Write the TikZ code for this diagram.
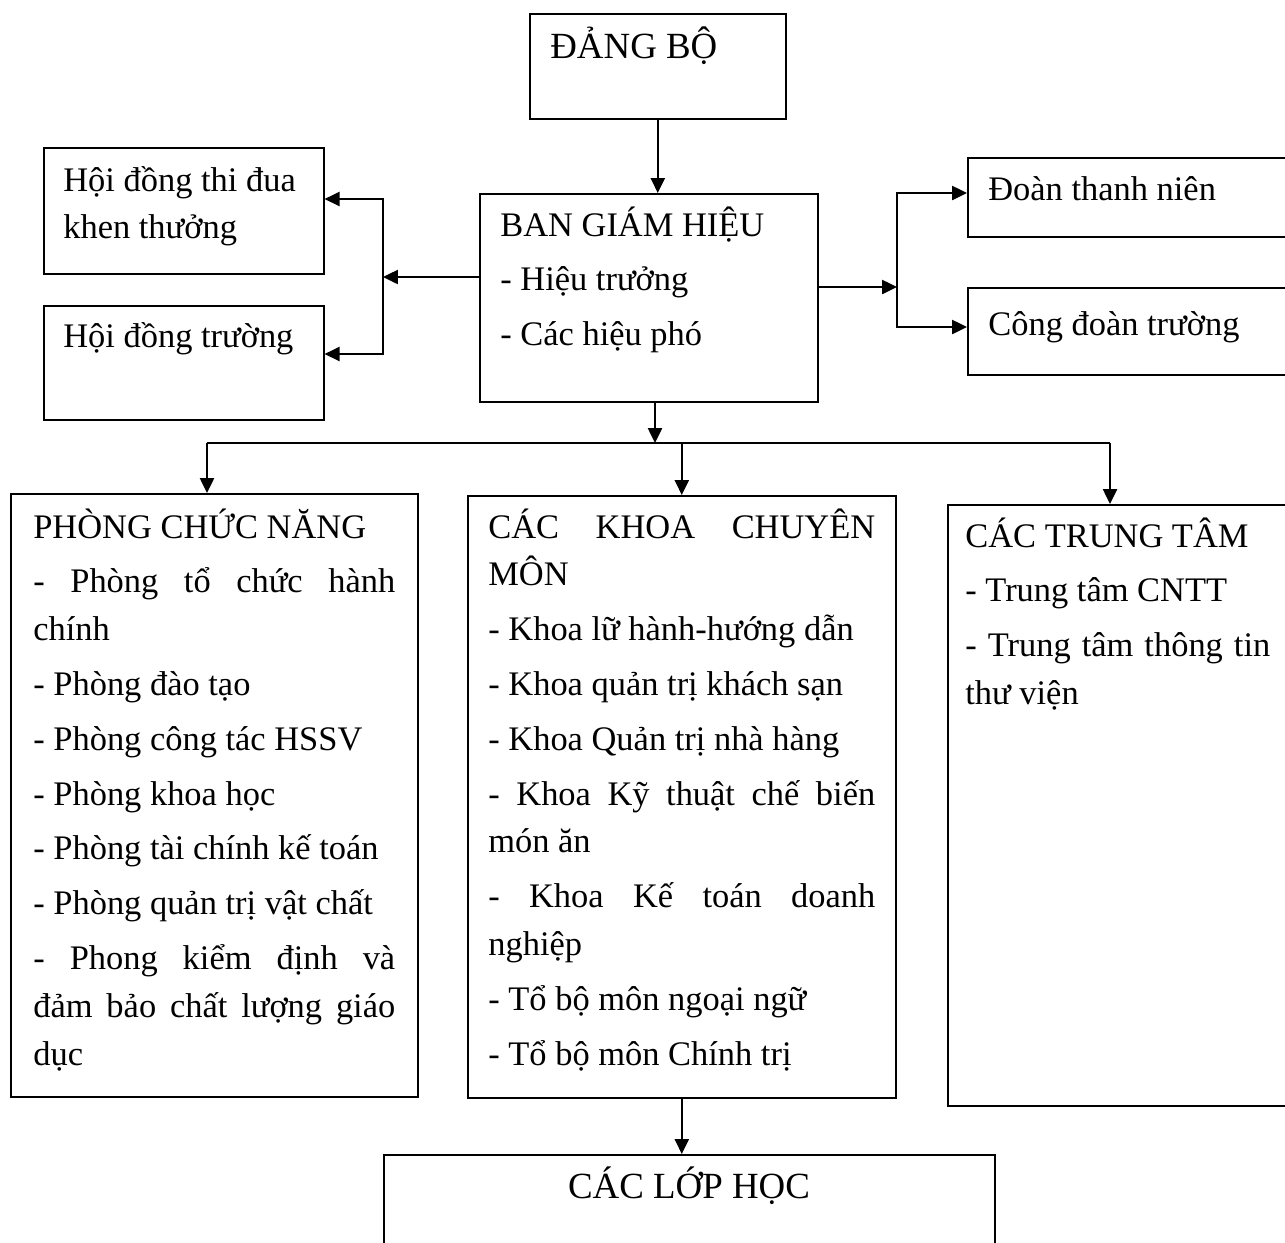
\documentclass[tikz,border=0pt]{standalone}
\usepackage{fontspec}
\setmainfont{Liberation Serif}[WordSpace={1,6,0}]
\usetikzlibrary{arrows.meta}

\begin{document}
\begin{tikzpicture}[x=0.02cm, y=-0.02cm,
    box/.style 2 args={draw, line width=0.9pt, anchor=north west, inner sep=0pt,
      minimum width=#1*0.02cm, minimum height=#2*0.02cm},
    txt/.style={anchor=base west, inner sep=0pt, font=\fontsize{19.6}{27.2}\selectfont,
      execute at begin node={\setlength{\parskip}{4pt}\hyphenpenalty=10000
        \exhyphenpenalty=10000\tolerance=10000}},
    arr/.style={line width=1.2pt, -{Triangle[length=8.5pt,width=8pt]}},
    arrs/.style={line width=1.2pt,
      {Triangle[length=8.5pt,width=8pt]}-{Triangle[length=8.5pt,width=8pt]}}]
    \useasboundingbox (0,0) rectangle (1285,1242);
    \clip (0,0) rectangle (1285,1242);

    % Boxes
    \node[box={256}{105}] (dang) at (529,13) {};
    \node[box={338}{208}] (bgh) at (479,193) {};
    \node[box={280}{126}] (hdtd) at (43,147) {};
    \node[box={280}{114}] (hdt) at (43,305) {};
    \node[box={340}{79}] (doan) at (967,157) {};
    \node[box={340}{87}] (cd) at (967,287) {};
    \node[box={407}{603}] (pcn) at (10,493) {};
    \node[box={428}{602}] (khoa) at (467,495) {};
    \node[box={360}{601}] (ttam) at (947,504) {};
    \node[box={611}{120}] (lop) at (383,1154) {};

    % Texts
    \node[txt, font=\fontsize{21}{27.2}\selectfont] (dang-t) at (550,58) {ĐẢNG BỘ};
    \node[txt, text width=6cm, align=flush left] (bgh-t) at (500,236)
      {BAN GIÁM HIỆU\par - Hiệu trưởng\par - Các hiệu phó};
    \node[txt, text width=5cm, align=flush left] (hdtd-t) at (63,191)
      {Hội đồng thi đua\\ khen thưởng};
    \node[txt] (hdt-t) at (63,347) {Hội đồng trường};
    \node[txt] (doan-t) at (988,200) {Đoàn thanh niên};
    \node[txt] (cd-t) at (988,335) {Công đoàn trường};
    \node[txt, text width=7.24cm, align=justify] (pcn-t) at (33,538) {
      PHÒNG CHỨC NĂNG\par
      - Phòng tổ chức hành chính\par
      - Phòng đào tạo\par
      - Phòng công tác HSSV\par
      - Phòng khoa học\par
      - Phòng tài chính kế toán\par
      - Phòng quản trị vật chất\par
      - Phong kiểm định và đảm bảo chất lượng giáo dục};
    \node[txt, text width=7.74cm, align=justify] (khoa-t) at (488,538) {
      CÁC KHOA CHUYÊN MÔN\par
      - Khoa lữ hành-hướng dẫn\par
      - Khoa quản trị khách sạn\par
      - Khoa Quản trị nhà hàng\par
      - Khoa Kỹ thuật chế biến món ăn\par
      - Khoa Kế toán doanh nghiệp\par
      - Tổ bộ môn ngoại ngữ\par
      - Tổ bộ môn Chính trị};
    \node[txt, text width=6.1cm, align=justify] (ttam-t) at (965,547) {
      CÁC TRUNG TÂM\par
      - Trung tâm CNTT\par
      - Trung tâm thông tin thư viện};
    \node[txt, anchor=base, font=\fontsize{21}{27.2}\selectfont] (lop-t) at (689,1198)
      {CÁC LỚP HỌC};

    % Connectors
    \coordinate (lbar) at (383,277);
    \coordinate (ltop) at (383,199);
    \coordinate (lbot) at (383,354);
    \coordinate (rbar) at (897,287);
    \coordinate (rtop) at (897,193);
    \coordinate (rbot) at (897,327);
    \coordinate (hmid) at (655,443);
    \coordinate (hl) at (207,443);
    \coordinate (hr) at (1110,443);

    \draw[arr] (dang.south) -- (dang.south |- bgh.north);
    \draw[arr] (bgh.west |- lbar) -- (lbar);
    \draw[arrs] (ltop -| hdtd.east) -- (ltop) -- (lbot) -- (lbot -| hdt.east);
    \draw[arr] (bgh.east |- rbar) -- (rbar);
    \draw[arrs] (rtop -| doan.west) -- (rtop) -- (rbot) -- (rbot -| cd.west);
    \draw[arr] (bgh.south -| hmid) -- (hmid);
    \draw[line width=1.2pt] (hl) -- (hr);
    \draw[arr] (hl) -- (hl |- pcn.north);
    \draw[arr] (khoa.north |- hl) -- (khoa.north);
    \draw[arr] (hr) -- (hr |- ttam.north);
    \draw[arr] (khoa.south) -- (khoa.south |- lop.north);
\end{tikzpicture}
\end{document}
